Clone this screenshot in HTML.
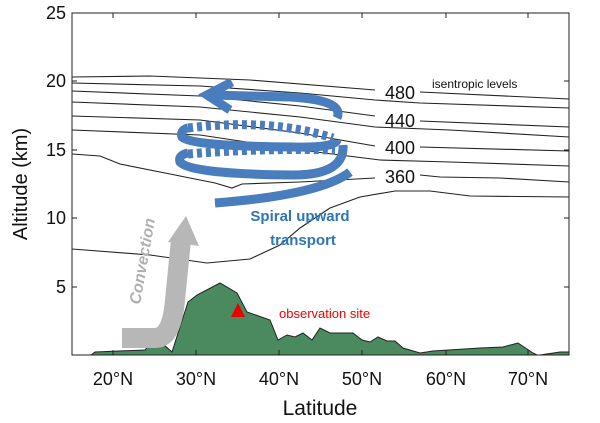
<!DOCTYPE html>
<html><head><style>body{margin:0;background:#fff}svg{display:block}</style></head><body>
<svg width="600" height="423" viewBox="0 0 600 423" font-family="Liberation Sans, sans-serif">
<rect width="600" height="423" fill="#fff"/>
<path d="M91,355 L95,352 L145,350 L155,337 L172,352 L188,302 L197,295 L220,283 L237,293 L247,312 L270,320 L278,340 L287,335 L295,337 L303,333 L312,340 L320,328 L330,333 L353,333 L362,340 L370,342 L378,337 L387,341 L395,341 L403,348 L420,353 L433,351 L480,348 L503,347 L518,343 L533,353 L537,355 Z" fill="#4a8a5e" stroke="#222" stroke-width="1"/>
<path d="M540,355 L560,352 L569,352 L569,355 Z" fill="#4a8a5e" stroke="#222" stroke-width="1"/>
<g fill="none" stroke="#222" stroke-width="1.1">
<path d="M72,77 L150,76 L250,80 L375,90 M420,92 L569,99"/>
<path d="M72,83 L200,86 L300,93 L375,100 L420,103 L569,108"/>
<path d="M72,91 L200,96 L300,106 L375,116 M420,121 L569,127"/>
<path d="M72,102 L200,107 L300,117 L375,127 L450,130 L569,137"/>
<path d="M72,116 L200,120 L300,133 L375,146 M420,147 L569,151"/>
<path d="M72,130 L200,135 L300,150 L380,160 L450,162 L569,166"/>
<path d="M72,154 L100,156 L120,164 L170,174 L215,183 L232,188 L242,184 L300,182 L375,178 M420,175 L440,177 L500,178 L569,182"/>
<path d="M72,249 L150,255 L207,263 L250,259 L280,245 L300,228 L330,208 L360,197 L395,191 L430,191 L470,196 L569,197"/>
</g>
<g font-size="18" fill="#111" text-anchor="middle">
<text x="400" y="99">480</text><text x="400" y="127">440</text><text x="400" y="154">400</text><text x="400" y="183">360</text>
</g>
<text x="432" y="88" font-size="12" fill="#111">isentropic levels</text>
<path d="M122,338 L155,338 Q172,338 175,300 L181,240" fill="none" stroke="#b7b7b7" stroke-width="20"/>
<path d="M168,242 L186,216 L199,246 Z" fill="#b7b7b7"/>
<text transform="translate(140,305) rotate(-80)" font-size="16" font-weight="bold" font-style="italic" fill="#b0b0b0">Convection</text>
<g fill="none" stroke="#4a7dbd" stroke-width="9" stroke-linecap="butt">
<path d="M215,203 Q320,195 350,172"/>
<path d="M343,145 Q345,175 293,175 Q190,174 180,162 Q178,155 188,153"/>
<path d="M188,154 Q260,148 335,150" stroke-dasharray="5,4"/>
<path d="M337,140 Q335,148 293,147 Q190,146 182,137 Q180,130 188,128"/>
<path d="M188,128 Q270,118 333,138" stroke-dasharray="5,4"/>
<path d="M337,118 Q345,100 290,97 L210,95"/>
<path d="M232,82 L207,95 L230,110" stroke-linejoin="miter"/>
</g>
<text x="300" y="221" font-size="15" font-weight="bold" fill="#2e75b6" text-anchor="middle">Spiral upward</text>
<text x="303" y="245" font-size="15" font-weight="bold" fill="#2e75b6" text-anchor="middle">transport</text>
<path d="M238,303 L231,317 L245,317 Z" fill="#e00"/>
<text x="279" y="318" font-size="13" fill="#e00">observation site</text>
<rect x="72" y="13" width="497" height="342" fill="none" stroke="#222" stroke-width="1"/>
<g stroke="#222" stroke-width="1">
<path d="M113,355v-5M196,355v-5M279,355v-5M362,355v-5M446,355v-5M528,355v-5M113,13v5M196,13v5M279,13v5M362,13v5M446,13v5M528,13v5"/>
<path d="M72,287h5M72,218h5M72,150h5M72,81h5M72,13h5M569,287h-5M569,218h-5M569,150h-5M569,81h-5"/>
</g>
<g font-size="18" fill="#111" text-anchor="end">
<text x="66" y="293">5</text><text x="66" y="224">10</text><text x="66" y="156">15</text><text x="66" y="87">20</text><text x="66" y="19">25</text>
</g>
<g font-size="18" fill="#111" text-anchor="middle">
<text x="113" y="385">20°N</text><text x="196" y="385">30°N</text><text x="279" y="385">40°N</text><text x="362" y="385">50°N</text><text x="446" y="385">60°N</text><text x="528" y="385">70°N</text>
</g>
<text x="320" y="415" font-size="21" fill="#111" text-anchor="middle">Latitude</text>
<text transform="translate(27,184) rotate(-90)" font-size="20" fill="#111" text-anchor="middle">Altitude (km)</text>
</svg>
</body></html>
